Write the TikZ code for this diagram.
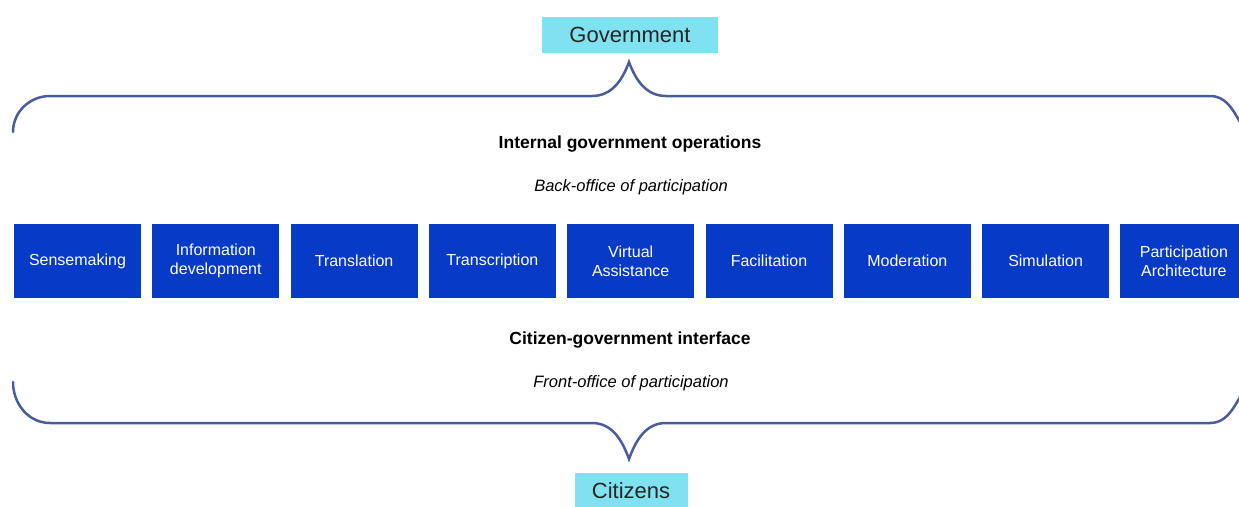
\documentclass[tikz,border=0pt]{standalone}
\usepackage{fontspec}
\setmainfont{Liberation Sans}
\usepackage{tikz}

\definecolor{boxblue}{RGB}{8,58,200}
\definecolor{endcyan}{RGB}{128,226,240}
\definecolor{bracecol}{RGB}{74,92,156}

\begin{document}
\begin{tikzpicture}
	[
	x=1pt, y=-1pt,
	align=center,
	role/.style={fill=boxblue, text=white, inner sep=0pt, minimum width=127pt, minimum height=74pt, font=\fontsize{16}{19}\selectfont},
	side/.style={fill=endcyan, text=black!85, inner sep=0pt, minimum height=36pt, font=\fontsize{22}{26}\selectfont},
	brace/.style={draw=bracecol, line width=2.5pt, line cap=round},
	]
		\useasboundingbox (0,0) rectangle (1239,506);
		
		% the two ends
		\node[side, minimum width=176pt] (gov) at 	( 630,  35 ) {Government};
		\node[side, minimum width=113pt] (cit) at 	( 631, 491 ) {Citizens};
		
		% back office
		\node (back) at 		( 630, 144 ) {\fontsize{17.5}{20}\selectfont\bfseries Internal government operations};
		\node (backi) at 		( 631, 187 ) {\fontsize{16.5}{20}\selectfont\itshape Back-office of participation};
		
		% front office
		\node (front) at 		( 630, 340 ) {\fontsize{17.5}{20}\selectfont\bfseries Citizen-government interface};
		\node (fronti) at 		( 631, 383 ) {\fontsize{16.5}{20}\selectfont\itshape Front-office of participation};
		
		% roles
		\foreach \i/\name/\txt in {0/sense/Sensemaking, 1/info/Information\\development, 2/trsl/Translation,
			3/trsc/Transcription, 4/virt/Virtual\\Assistance, 5/faci/Facilitation,
			6/mode/Moderation, 7/simu/Simulation, 8/part/Participation\\Architecture}
			\node[role] (\name) at (77.5+138.3*\i, 261) {\txt};
		
		% braces
		\coordinate (tt) at 		( 629,  62 );
		\coordinate (bt) at 		( 629, 459 );
		\draw[brace] (13,132) to[out=90,in=180] (50,96) -- (592,96) to[out=0,in=-110] (tt)
			to[out=-70,in=180] (666,96) -- (1210,96) to[out=0,in=120] (1240,122);
		\draw[brace] (13,382) to[out=-90,in=180] (50,423) -- (592,423) to[out=0,in=110] (bt)
			to[out=70,in=180] (666,423) -- (1210,423) to[out=0,in=-120] (1240,397);
		
	\end{tikzpicture}
\end{document}
